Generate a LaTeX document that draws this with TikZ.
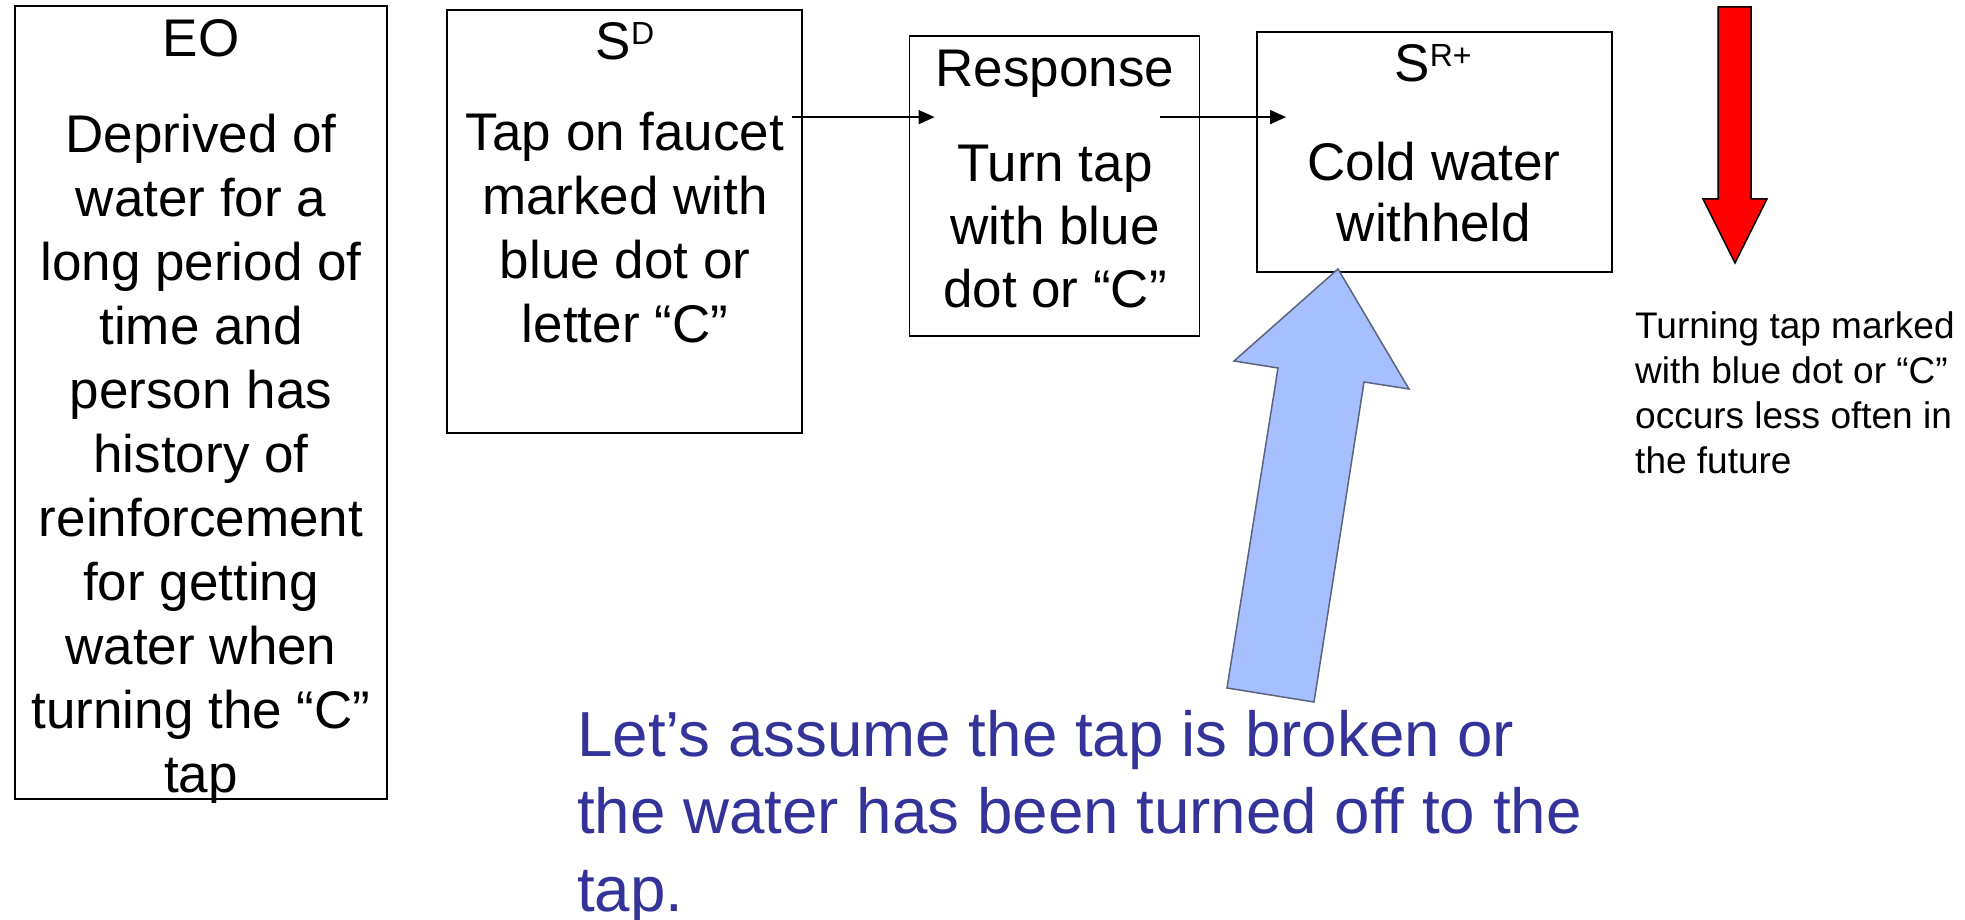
\documentclass[tikz,border=0pt]{standalone}
\usepackage{fontspec}
\setmainfont{Liberation Sans}
\usetikzlibrary{arrows.meta,calc}
\definecolor{notecol}{RGB}{51,51,153}
\definecolor{arrowfill}{RGB}{166,191,255}
\definecolor{arrowline}{RGB}{90,100,125}
\newcommand{\supsc}[1]{\raisebox{15pt}{\fontsize{32}{32}\selectfont #1}}
\begin{document}
\begin{tikzpicture}[x=1pt,y=-1pt,
  box/.style={draw=black, line width=1.8pt, inner sep=0pt},
  head/.style={inner sep=0pt, anchor=base, font=\fontsize{53}{64}\selectfont},
  body/.style={inner sep=0pt, anchor=base, align=center, font=\fontsize{53}{64}\selectfont},
  conn/.style={line width=1.4pt, -{Triangle[length=16pt,width=14pt]}},
  side/.style={inner sep=0pt, anchor=base west, align=left, font=\fontsize{37}{45}\selectfont},
  note/.style={inner sep=0pt, anchor=base west, align=left, text=notecol, font=\fontsize{63.7}{77.5}\selectfont},
  redarrow/.style={fill=red, draw=black, line width=1.5pt, line join=miter},
  bluearrow/.style={fill=arrowfill, draw=arrowline, line width=1.5pt, line join=miter}
]
\useasboundingbox (0,0) rectangle (1965,920);
% boxes
\node[box, minimum width=372pt, minimum height=793pt] (eo) at (201,402.5) {};
\node[box, minimum width=355pt, minimum height=423pt] (sd) at (624.5,221.5) {};
\node[box, minimum width=290pt, minimum height=300pt] (resp) at (1054.5,186) {};
\node[box, minimum width=355pt, minimum height=240pt] (srp) at (1434.5,152) {};
% headings
\node[head] (eoh) at (201,57) {EO};
\node[head] (sdh) at (625,60) {S\supsc{D}};
\node[head] (resph) at (1055,87) {Response};
\node[head] (srph) at (1433,82) {S\supsc{R+}};
% bodies (anchor = baseline of last line)
\node[body] (eob) at (201,792) {Deprived of\\water for a\\long period of\\time and\\person has\\history of\\reinforcement\\for getting\\water when\\turning the “C”\\tap};
\node[body] (sdb) at (625,342) {Tap on faucet\\marked with\\blue dot or\\letter “C”};
\node[body, font=\fontsize{53}{63}\selectfont] (respb) at (1055,307) {Turn tap\\with blue\\dot or “C”};
\node[body, font=\fontsize{53}{62}\selectfont] (srpb) at (1434,242) {Cold water\\withheld};
% connectors
\coordinate (a1s) at ($(sd.north east)+(-11,108)$);
\coordinate (a1e) at ($(resp.north west)+(26,82)$);
\coordinate (a2s) at ($(resp.north east)+(-40,82)$);
\coordinate (a2e) at ($(srp.north west)+(30,86)$);
\draw[conn] (a1s) -- (a1e);
\draw[conn] (a2s) -- (a2e);
% red arrow
\draw[redarrow] (1718,7) -- (1751,7) -- (1751,199) -- (1767,199) -- (1735,263) -- (1703,199) -- (1718,199) -- cycle;
% blue arrow
\draw[bluearrow] (1338,269) -- (1409,389) -- (1364,382) -- (1314,702) -- (1227,688) -- (1278,368) -- (1234,361) -- cycle;
% texts
\node[side] (fut) at (1635,473) {Turning tap marked\\with blue dot or “C”\\occurs less often in\\the future};
\node[note] (msg) at (577,911) {Let’s assume the tap is broken or\\the water has been turned off to the\\tap.};
\end{tikzpicture}
\end{document}
